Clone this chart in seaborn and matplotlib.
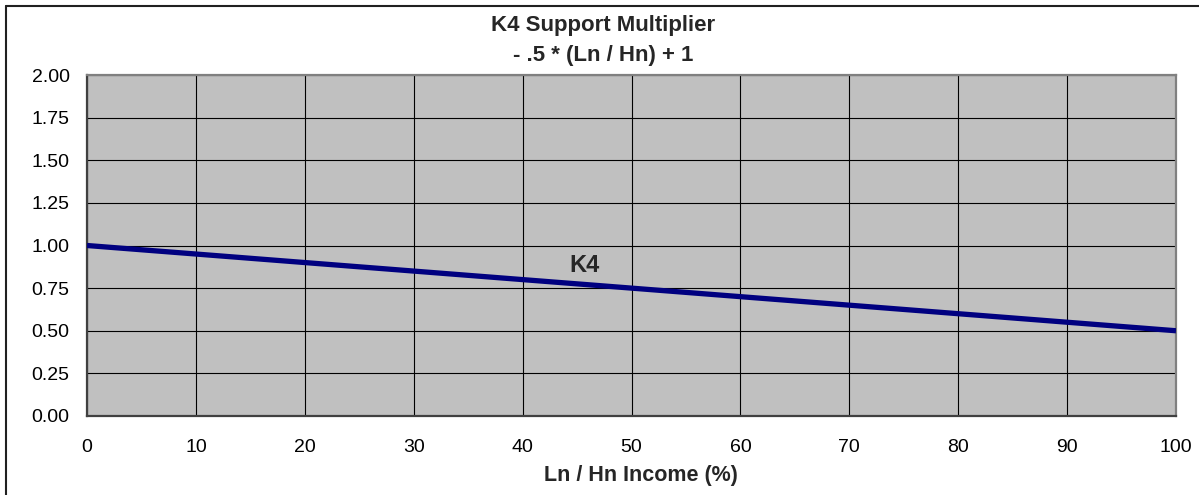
import matplotlib
matplotlib.use("Agg")
import matplotlib.pyplot as plt
import matplotlib.lines as mlines
import pandas as pd
import seaborn as sns

# values
income_pct = [0, 10, 20, 30, 40, 50, 60, 70, 80, 90, 100]
k4_values = [1.00, 0.95, 0.90, 0.85, 0.80, 0.75, 0.70, 0.65, 0.60, 0.55, 0.50]
x_ticks = [0, 10, 20, 30, 40, 50, 60, 70, 80, 90, 100]
y_ticks = [0.00, 0.25, 0.50, 0.75, 1.00, 1.25, 1.50, 1.75, 2.00]

df = pd.DataFrame({'income': income_pct, 'K4': k4_values})

sns.set_style('white')
plt.rcParams['font.family'] = ['Liberation Sans', 'DejaVu Sans']

W, H = 1199, 495
fig = plt.figure(figsize=(W / 100, H / 100), dpi=100)
ax = fig.add_axes([87 / W, 1 - 416 / H, (1176 - 87) / W, (416 - 75) / H])
ax.set_facecolor('#C0C0C0')

sns.lineplot(data=df, x='income', y='K4', ax=ax, color='#000080',
             linewidth=3.8, solid_capstyle='butt', zorder=3)

ax.set_xlim(0, 100)
ax.set_ylim(0, 2)
ax.set_xticks(x_ticks)
ax.set_yticks(y_ticks)
ax.set_yticklabels([f'{v:.2f}' for v in y_ticks])

# grid
ax.grid(True, color='black', linewidth=0.8, zorder=1)
ax.set_axisbelow(True)

# spines
for side in ['left', 'bottom']:
    ax.spines[side].set_color('#404040')
    ax.spines[side].set_linewidth(1.6)
for side in ['top', 'right']:
    ax.spines[side].set_color('#808080')
    ax.spines[side].set_linewidth(1.6)

ax.tick_params(axis='both', direction='out', length=4.5, width=1,
               color='#404040', labelsize=14, labelcolor='black')
ax.tick_params(axis='x', pad=12)
ax.tick_params(axis='y', pad=8)

ax.set_ylabel('')
ax.set_xlabel('Ln / Hn Income (%)', fontsize=15.5, fontweight='bold', va='center')
ax.xaxis.set_label_coords((641 - 87) / (1176 - 87), (416 - 476) / (416 - 75))

# series label
ax.text(45.7, 0.88, 'K4', fontsize=17, fontweight='bold', ha='center', va='center')

# title
fig.text(603 / W, 1 - 25 / H, 'K4 Support Multiplier', fontsize=16,
         fontweight='bold', ha='center', va='center')
fig.text(603 / W, 1 - 55 / H, '- .5 * (Ln / Hn) + 1', fontsize=16,
         fontweight='bold', ha='center', va='center')

# chart area border (left and top edges visible)
fig.add_artist(mlines.Line2D([5.5 / W, 5.5 / W], [0, 1 - 5.5 / H],
                             color='#202020', linewidth=1.5))
fig.add_artist(mlines.Line2D([5.5 / W, 1], [1 - 5.5 / H, 1 - 5.5 / H],
                             color='#202020', linewidth=1.5))

fig.savefig('out.png', dpi=100)
